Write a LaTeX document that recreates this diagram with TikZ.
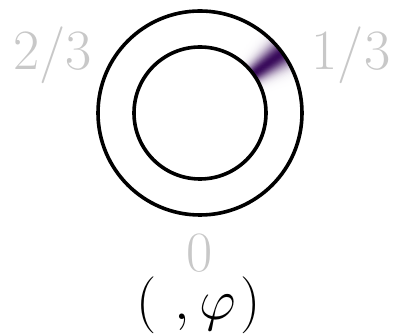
\documentclass[tikz,border=0pt]{standalone}
\usepackage{fix-cm}
\usetikzlibrary{calc}
\definecolor{bandc}{RGB}{58,12,92}
\definecolor{lbl}{RGB}{200,200,200}
\tikzset{
  ring/.style={draw=black, line width=3.6pt},
  biglabel/.style={text=lbl, inner sep=0pt, anchor=base, font=\fontsize{57}{60}\selectfont},
  mathlabel/.style={text=black, inner sep=0pt, anchor=base, font=\fontsize{57}{60}\selectfont}
}
\begin{document}
\begin{tikzpicture}[x=1pt,y=1pt]
\useasboundingbox (0,0) rectangle (397,334);
\coordinate (c) at (200,221);
% shaded band
\foreach \t in {-22,-21.6,...,22} {
  \pgfmathsetmacro{\mix}{100*exp(-(\t/7.5)^2)}
  \pgfmathsetmacro{\aa}{36+\t}
  \pgfmathsetmacro{\ab}{36+\t+0.8}
  \fill[bandc!\mix!white] ($(c)+(\aa:66)$) arc[start angle=\aa, end angle=\ab, radius=66]
     -- ($(c)+(\ab:102)$) arc[start angle=\ab, end angle=\aa, radius=102] -- cycle;
}
\node[ring, circle, minimum size=204pt, inner sep=0pt] (outer) at (c) {};
\node[ring, circle, minimum size=132pt, inner sep=0pt] (inner) at (c) {};
\node[biglabel] (l23) at (52.5,264) {2/3};
\node[biglabel] (l13) at (351,264) {1/3};
\node[biglabel] (l0) at (200,62) {0};
\node[mathlabel] (pair) at (198.5,14) {$(\hspace{0.32em},\varphi\hspace{0.08em})$};
\end{tikzpicture}
\end{document}
